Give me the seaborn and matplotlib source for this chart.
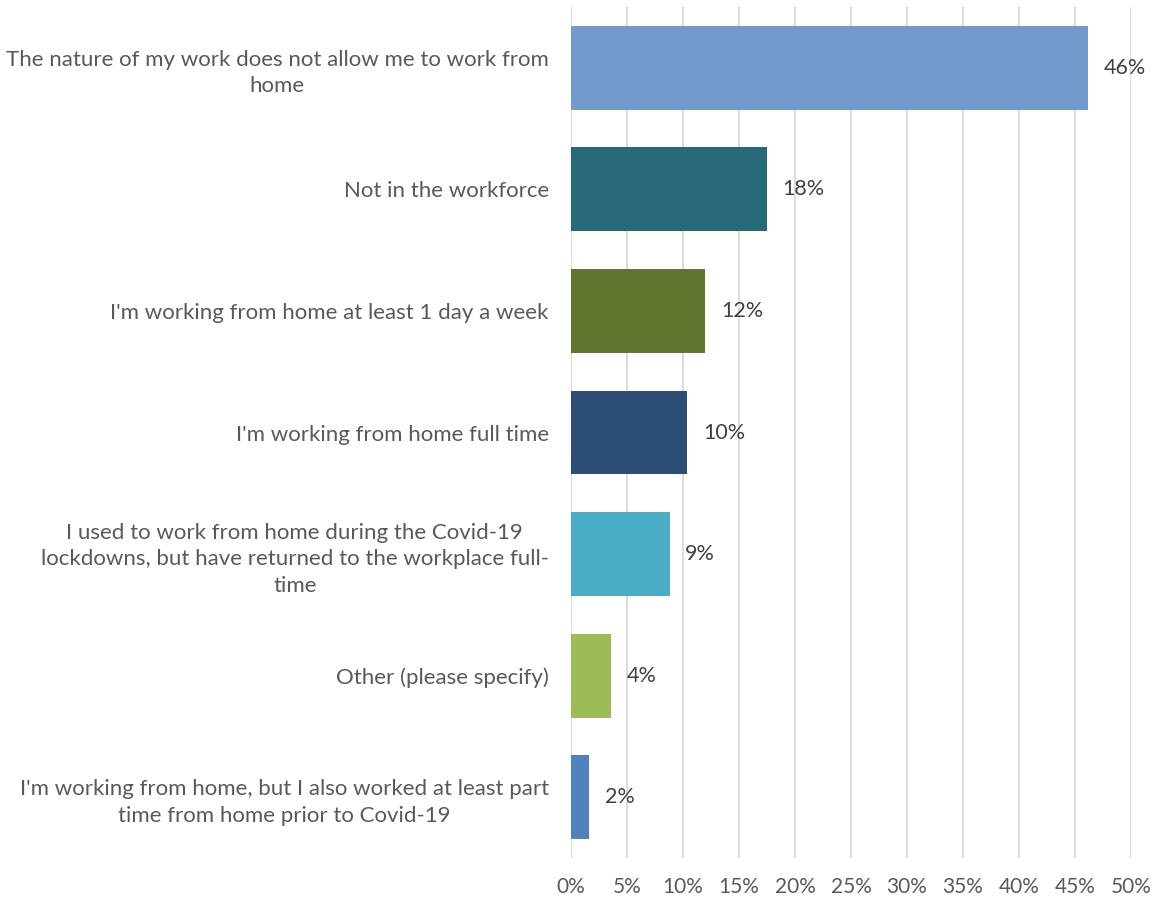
import matplotlib
matplotlib.use("Agg")
import matplotlib.pyplot as plt
import seaborn as sns
import pandas as pd

categories = [
    "The nature of my work does not allow me to work from\nhome",
    "Not in the workforce",
    "I'm working from home at least 1 day a week",
    "I'm working from home full time",
    "I used to work from home during the Covid-19\nlockdowns, but have returned to the workplace full-\ntime",
    "Other (please specify)",
    "I'm working from home, but I also worked at least part\ntime from home prior to Covid-19",
]
values = [46.2, 17.5, 12.0, 10.4, 8.8, 3.6, 1.6]
colors = ["#729ACC", "#276B7A", "#627530", "#2C4D75", "#4BACC6", "#9BBB59", "#4F81BD"]
xticks = [0, 5, 10, 15, 20, 25, 30, 35, 40, 45, 50]

df = pd.DataFrame({"category": categories, "value": values})

sns.set_theme(style="white")
plt.rcParams["font.family"] = ["Lato", "DejaVu Sans"]

fig = plt.figure(figsize=(11.61, 9.01), dpi=100)
ax = fig.add_axes([571 / 1161, 1 - 858 / 901, 560 / 1161, 851 / 901])

sns.barplot(data=df, x="value", y="category", hue="category", palette=colors,
            orient="h", legend=False, width=0.69, ax=ax, saturation=1,
            linewidth=0)

ax.set_xlim(0, 50)
ax.set_ylim(6.5, -0.5)
ax.set_xticks(xticks)
ax.set_xticklabels([f"{t}%" for t in xticks], color="#595959", fontsize=15)
ax.tick_params(axis="x", length=0, pad=14)
ax.tick_params(axis="y", length=0, pad=16)
for lbl in ax.get_yticklabels():
    lbl.set_color("#595959")
    lbl.set_fontsize(16.0)
    lbl.set_multialignment("center")
    lbl.set_linespacing(1.4)
ax.set_xlabel("")
ax.set_ylabel("")
ax.xaxis.grid(True, color="#D9D9D9", linewidth=1.3)
ax.set_axisbelow(True)
for s in ax.spines.values():
    s.set_visible(False)

for i, v in enumerate(values):
    ax.text(v + 1.4, i, f"{v:.0f}%", va="center", ha="left", fontsize=15.5, color="#404040")

fig.savefig("out.png", dpi=100)
